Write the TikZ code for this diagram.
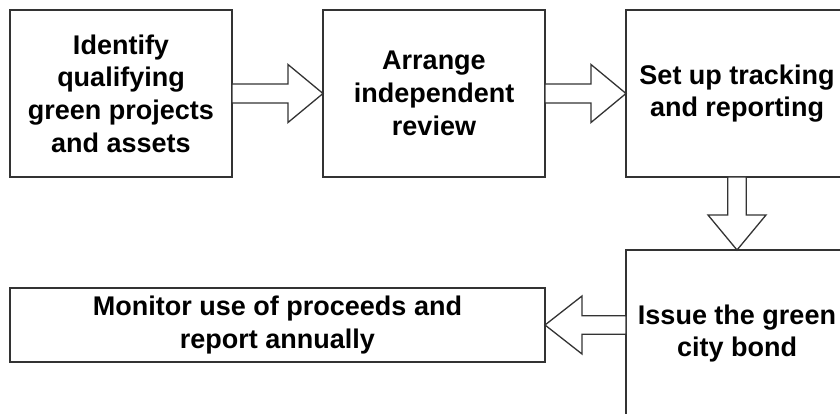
\documentclass[tikz,border=0pt]{standalone}
\usepackage{fontspec}
\setmainfont{Liberation Sans}
\usetikzlibrary{calc}
\begin{document}
\begin{tikzpicture}[x=1pt,y=-1pt,
  stepbox/.style={draw=black!80,line width=1.5pt,fill=white,inner sep=0pt,outer sep=0pt,
    align=center,font=\fontsize{27}{32.7}\selectfont\bfseries},
  blockarrow/.style={draw=black!80,line width=1.3pt,fill=white,line join=miter}
]
\useasboundingbox (0,0) rectangle (840,414);
\clip (0,0) rectangle (840,414);

% process steps
\node[stepbox,minimum width=222pt,minimum height=167pt] (b1) at (121,93.5)
  {Identify\\qualifying\\green projects\\and assets};
\node[stepbox,minimum width=222pt,minimum height=167pt] (b2) at (434,93.5)
  {Arrange\\independent\\review};
\node[stepbox,minimum width=222pt,minimum height=167pt] (b3) at (737,93.5)
  {Set up tracking\\and reporting};
\node[stepbox,minimum width=222pt,minimum height=167pt] (b4) at (737,333.5)
  {Issue the green\\city bond};
\node[stepbox,minimum width=535pt,minimum height=74pt] (b5) at (277.5,325)
  {Monitor use of proceeds and\\report annually};

% hollow block arrows between the steps
\draw[blockarrow] let \p1=(b1.east), \p2=(b2.west) in
  (\x1,\y1+9.5pt) -- (\x2-35pt,\y1+9.5pt) -- (\x2-35pt,\y1+29pt) -- (\x2,\y1)
  -- (\x2-35pt,\y1-29pt) -- (\x2-35pt,\y1-9.5pt) -- (\x1,\y1-9.5pt) -- cycle;
\draw[blockarrow] let \p1=(b2.east), \p2=(b3.west) in
  (\x1,\y1+9.5pt) -- (\x2-35pt,\y1+9.5pt) -- (\x2-35pt,\y1+29pt) -- (\x2,\y1)
  -- (\x2-35pt,\y1-29pt) -- (\x2-35pt,\y1-9.5pt) -- (\x1,\y1-9.5pt) -- cycle;
\draw[blockarrow] let \p1=(b3.south), \p2=(b4.north) in
  (\x1-9.25pt,\y1) -- (\x1-9.25pt,\y2+35pt) -- (\x1-29pt,\y2+35pt) -- (\x1,\y2)
  -- (\x1+29pt,\y2+35pt) -- (\x1+9.25pt,\y2+35pt) -- (\x1+9.25pt,\y1) -- cycle;
\draw[blockarrow] let \p1=(b4.west), \p2=(b5.east) in
  (\x1,\y2+9.25pt) -- (\x2+37pt,\y2+9.25pt) -- (\x2+37pt,\y2+29pt) -- (\x2,\y2)
  -- (\x2+37pt,\y2-29pt) -- (\x2+37pt,\y2-9.25pt) -- (\x1,\y2-9.25pt) -- cycle;
\end{tikzpicture}
\end{document}
